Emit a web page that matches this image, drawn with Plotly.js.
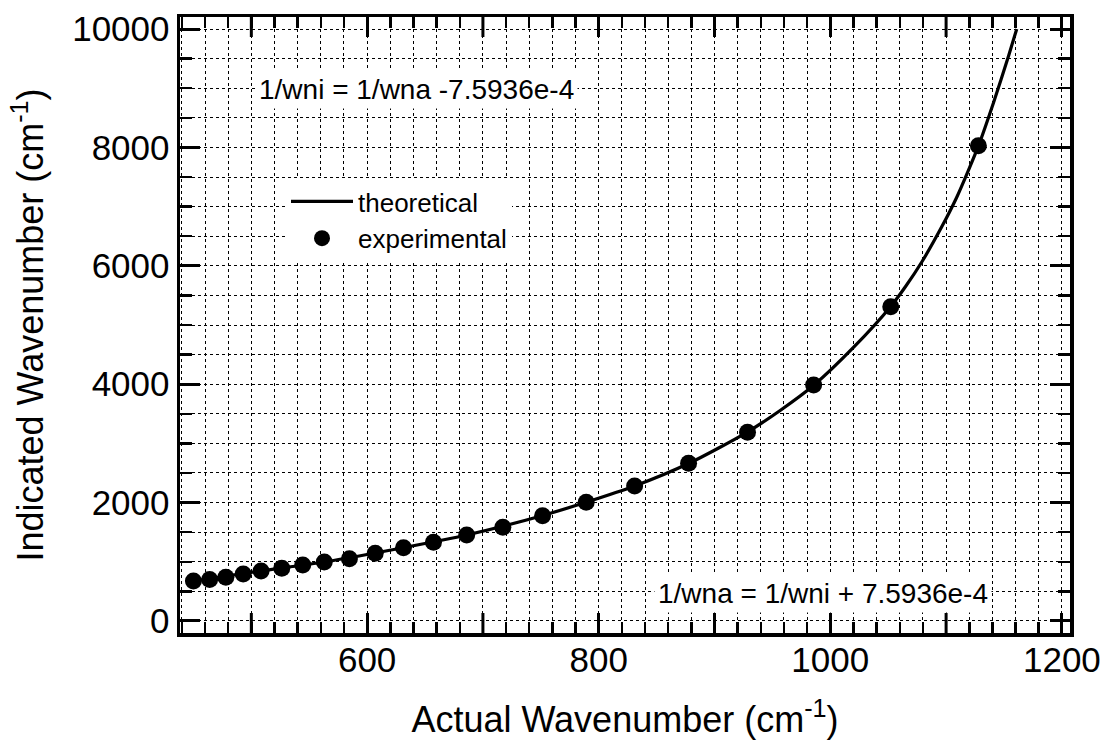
<!DOCTYPE html>
<html>
<head>
<meta charset="utf-8">
<script src="https://cdn.plot.ly/plotly-3.0.1.min.js"></script>
<style>
  html, body { margin: 0; padding: 0; background: #ffffff; }
  #chart { width: 1107px; height: 748px; }
</style>
</head>
<body>
<div id="chart"></div>
<script>
// Experimental points
const expX = [450, 464, 478, 493, 508.4, 526.3, 544.4, 563, 584.7, 607, 631.4, 657.3, 686, 717.2, 751.5, 789.2, 831, 877.6, 928.5, 985.6, 1052.2, 1127.9];
const expY = [676, 700, 738, 794, 845, 890, 946, 997, 1052, 1143, 1238, 1329, 1453, 1583, 1779, 2005, 2280, 2664, 3187, 3986, 5309, 8029];

// Theoretical curve
const theoX = [450, 508, 563, 631, 686, 751, 789, 831, 878, 928, 957, 986, 1020, 1052, 1065, 1079, 1096, 1109, 1119, 1128, 1141, 1154, 1161];
const theoY = [676, 845, 997, 1238, 1453, 1779, 2005, 2280, 2664, 3187, 3560, 3986, 4620, 5309, 5650, 6064, 6650, 7150, 7600, 8030, 8760, 9550, 10000];

// Tick labels
const xTickVals = [600, 800, 1000, 1200];
const xTickText = ['600', '800', '1000', '1200'];
const xMidTickVals = [500, 700, 900, 1100];
const yTickVals = [0, 2000, 4000, 6000, 8000, 10000];
const yTickText = ['0', '2000', '4000', '6000', '8000', '10000'];

const legendNames = ['theoretical', 'experimental'];
const eqTop = '1/wni = 1/wna -7.5936e-4';
const eqBottom = '1/wna = 1/wni + 7.5936e-4';

const FONT = 'Liberation Sans, Arial, Helvetica, sans-serif';
const X_RANGE = [438.4, 1207];
const Y_RANGE = [-203, 10203];
const MAJOR_TICK_LEN = 20;

const traces = [
  {
    x: theoX, y: theoY, type: 'scatter', mode: 'lines', name: legendNames[0],
    line: { color: '#000000', width: 3.2, shape: 'spline', smoothing: 0.7 },
    hoverinfo: 'x+y'
  },
  {
    x: expX, y: expY, type: 'scatter', mode: 'markers', name: legendNames[1],
    marker: { color: '#000000', size: 17, symbol: 'circle' },
    hoverinfo: 'x+y'
  }
];

// Long unlabeled ticks at the odd hundreds, bottom and top edges (tick decoration)
const midTickShapes = [];
xMidTickVals.forEach(v => {
  midTickShapes.push({
    type: 'line', xref: 'x', yref: 'paper', x0: v, x1: v,
    ysizemode: 'pixel', yanchor: 0, y0: 0, y1: MAJOR_TICK_LEN,
    line: { color: '#000000', width: 3 }, layer: 'above'
  });
  midTickShapes.push({
    type: 'line', xref: 'x', yref: 'paper', x0: v, x1: v,
    ysizemode: 'pixel', yanchor: 1, y0: 0, y1: -MAJOR_TICK_LEN,
    line: { color: '#000000', width: 3 }, layer: 'above'
  });
});

const gridStyle = { showgrid: true, gridcolor: '#000000', gridwidth: 1, griddash: 'dot' };

const layout = {
  width: 1107, height: 748,
  margin: { l: 180, r: 37, t: 17, b: 115 },
  paper_bgcolor: '#ffffff', plot_bgcolor: '#ffffff',
  font: { family: FONT, color: '#000000' },
  showlegend: true,
  legend: {
    x: (286 - 180) / 890, xanchor: 'left',
    y: (633 - 178) / 616, yanchor: 'top',
    bgcolor: '#ffffff', borderwidth: 0,
    font: { family: FONT, size: 26, color: '#000000' },
    itemwidth: 62, tracegroupgap: 0
  },
  xaxis: Object.assign({
    range: X_RANGE,
    tickmode: 'array', tickvals: xTickVals, ticktext: xTickText,
    ticks: 'inside', ticklen: MAJOR_TICK_LEN, tickwidth: 3, tickcolor: '#000000',
    showline: true, linewidth: 3.5, linecolor: '#000000', mirror: 'allticks',
    zeroline: false, ticklabelstandoff: -7,
    tickfont: { family: FONT, size: 35, color: '#000000' },
    minor: Object.assign({ tick0: 500, dtick: 20, ticks: 'inside', ticklen: 11, tickwidth: 2.5, tickcolor: '#000000' }, gridStyle),
    title: { text: 'Actual Wavenumber (cm<sup>-1</sup>)', font: { family: FONT, size: 36, color: '#000000' }, standoff: 30 }
  }, gridStyle),
  yaxis: Object.assign({
    range: Y_RANGE,
    tickmode: 'array', tickvals: yTickVals, ticktext: yTickText,
    ticks: 'inside', ticklen: MAJOR_TICK_LEN, tickwidth: 3, tickcolor: '#000000',
    showline: true, linewidth: 3.5, linecolor: '#000000', mirror: 'allticks',
    zeroline: false,
    tickfont: { family: FONT, size: 35, color: '#000000' },
    minor: Object.assign({ tick0: 0, dtick: 500, ticks: 'inside', ticklen: 12, tickwidth: 2.5, tickcolor: '#000000' }, gridStyle),
    title: { text: 'Indicated Wavenumber (cm<sup>-1</sup>)', font: { family: FONT, size: 36, color: '#000000' }, standoff: 18 }
  }, gridStyle),
  shapes: midTickShapes,
  annotations: [
    {
      xref: 'paper', yref: 'paper', x: (255 - 180) / 890, y: (633 - 89) / 616,
      xanchor: 'left', yanchor: 'middle', showarrow: false,
      text: eqTop, font: { family: FONT, size: 28, color: '#000000' },
      bgcolor: '#ffffff', borderpad: 3
    },
    {
      xref: 'paper', yref: 'paper', x: (654 - 180) / 890, y: (633 - 593) / 616,
      xanchor: 'left', yanchor: 'middle', showarrow: false,
      text: eqBottom, font: { family: FONT, size: 28, color: '#000000' },
      bgcolor: '#ffffff', borderpad: 3
    }
  ]
};

Plotly.newPlot('chart', traces, layout, { displayModeBar: false, staticPlot: true });
</script>
</body>
</html>
